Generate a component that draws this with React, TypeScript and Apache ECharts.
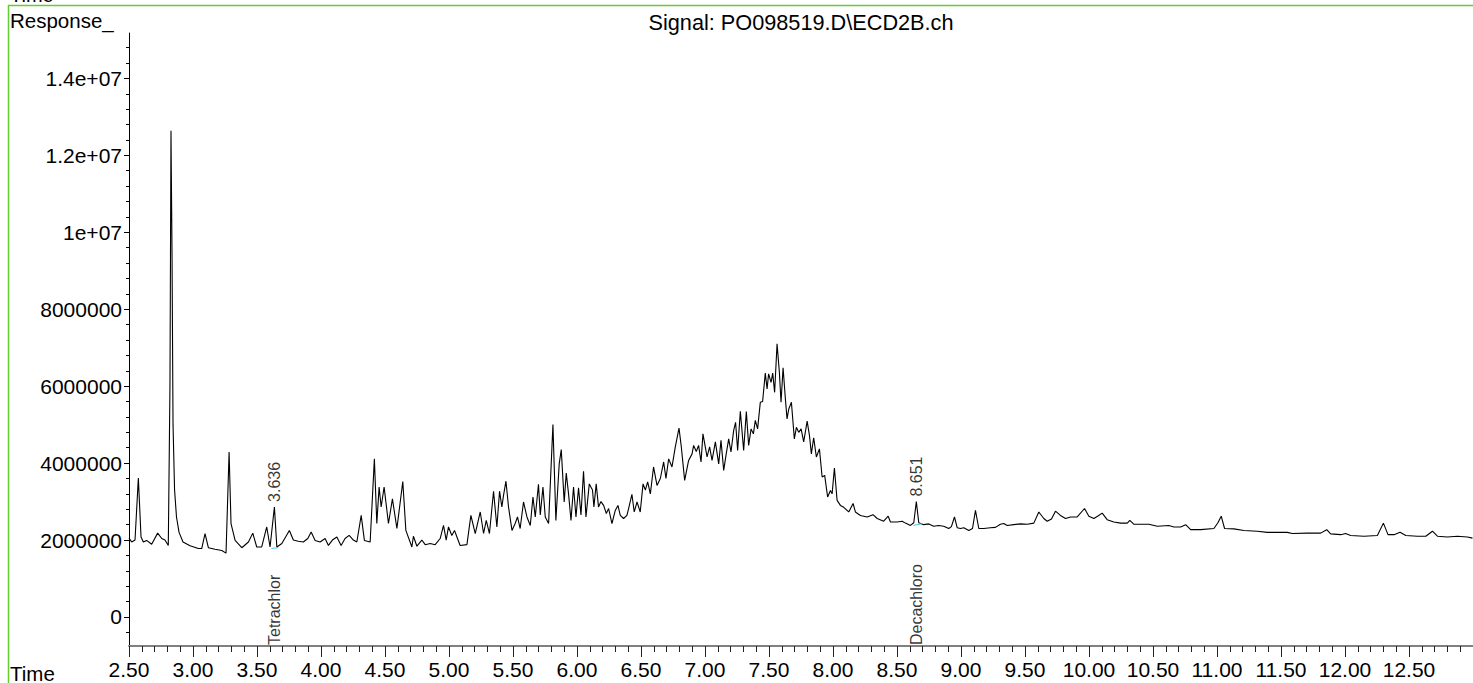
import React, { useEffect, useRef } from 'react';
import * as echarts from 'echarts';

// Retention time (min) and response (millions of counts)
const times = [
  2.500, 2.521, 2.547, 2.573, 2.594, 2.612, 2.638, 2.677, 2.724, 2.756, 2.781, 2.807, 2.820, 2.828, 2.836, 2.844,
  2.856, 2.871, 2.891, 2.922, 2.977, 3.042, 3.068, 3.094, 3.120, 3.172, 3.225, 3.258, 3.282, 3.297, 3.329, 3.381,
  3.433, 3.467, 3.498, 3.537, 3.576, 3.602, 3.636, 3.655, 3.694, 3.753, 3.784, 3.823, 3.862, 3.897, 3.923, 3.954,
  3.993, 4.032, 4.058, 4.089, 4.124, 4.157, 4.188, 4.220, 4.253, 4.280, 4.314, 4.339, 4.384, 4.417, 4.436, 4.454,
  4.470, 4.493, 4.527, 4.558, 4.593, 4.639, 4.663, 4.710, 4.722, 4.749, 4.788, 4.814, 4.853, 4.892, 4.931, 4.957,
  4.978, 4.996, 5.022, 5.043, 5.062, 5.087, 5.140, 5.171, 5.205, 5.244, 5.270, 5.291, 5.316, 5.348, 5.374, 5.395,
  5.413, 5.426, 5.445, 5.465, 5.492, 5.517, 5.535, 5.556, 5.582, 5.609, 5.635, 5.656, 5.674, 5.699, 5.713, 5.734,
  5.752, 5.778, 5.812, 5.835, 5.861, 5.877, 5.900, 5.916, 5.934, 5.953, 5.973, 5.992, 6.012, 6.031, 6.051, 6.070,
  6.096, 6.121, 6.132, 6.150, 6.168, 6.187, 6.208, 6.229, 6.247, 6.273, 6.299, 6.320, 6.338, 6.364, 6.390, 6.403,
  6.429, 6.447, 6.469, 6.494, 6.516, 6.534, 6.552, 6.573, 6.598, 6.625, 6.651, 6.677, 6.695, 6.716, 6.742, 6.768,
  6.797, 6.815, 6.841, 6.872, 6.899, 6.911, 6.932, 6.950, 6.969, 6.984, 7.016, 7.036, 7.055, 7.081, 7.107, 7.125,
  7.146, 7.164, 7.185, 7.203, 7.224, 7.239, 7.255, 7.276, 7.302, 7.323, 7.341, 7.360, 7.378, 7.393, 7.411, 7.432,
  7.450, 7.471, 7.485, 7.497, 7.516, 7.529, 7.544, 7.563, 7.581, 7.594, 7.610, 7.628, 7.641, 7.654, 7.675, 7.698,
  7.714, 7.732, 7.751, 7.771, 7.798, 7.816, 7.831, 7.849, 7.870, 7.894, 7.915, 7.935, 7.958, 7.980, 7.993, 8.011,
  8.032, 8.058, 8.084, 8.123, 8.157, 8.175, 8.214, 8.267, 8.313, 8.345, 8.396, 8.431, 8.449, 8.501, 8.540, 8.566,
  8.605, 8.631, 8.651, 8.670, 8.709, 8.748, 8.787, 8.826, 8.865, 8.904, 8.925, 8.949, 8.970, 8.996, 9.022, 9.061,
  9.090, 9.113, 9.139, 9.178, 9.230, 9.269, 9.308, 9.334, 9.361, 9.412, 9.465, 9.517, 9.569, 9.608, 9.647, 9.673,
  9.707, 9.738, 9.777, 9.817, 9.856, 9.908, 9.965, 9.999, 10.038, 10.067, 10.103, 10.142, 10.194, 10.246, 10.299,
  10.319, 10.351, 10.403, 10.468, 10.533, 10.624, 10.663, 10.716, 10.755, 10.794, 10.872, 10.976, 11.007, 11.033,
  11.059, 11.132, 11.210, 11.315, 11.393, 11.497, 11.549, 11.589, 11.706, 11.810, 11.857, 11.888, 11.967, 12.005,
  12.044, 12.148, 12.253, 12.300, 12.336, 12.383, 12.430, 12.475, 12.566, 12.631, 12.683, 12.722, 12.800, 12.878,
  12.956, 12.996,
];

const responseMillions = [
  2.05, 1.95, 2.00, 3.61, 2.08, 1.95, 1.99, 1.89, 2.18, 2.04, 2.00, 1.86, 6.00, 12.64, 9.50, 5.00,
  3.30, 2.60, 2.20, 1.95, 1.85, 1.78, 1.78, 2.17, 1.80, 1.76, 1.73, 1.66, 4.29, 2.43, 1.99, 1.80,
  1.95, 2.18, 1.82, 1.82, 2.34, 1.82, 2.86, 1.82, 1.91, 2.25, 2.00, 1.97, 1.95, 2.04, 2.21, 1.99,
  1.95, 2.04, 1.86, 2.00, 2.08, 1.86, 2.04, 2.12, 2.00, 1.95, 2.64, 1.99, 1.95, 4.11, 2.43, 3.38,
  2.86, 3.38, 2.43, 3.07, 2.30, 3.52, 2.25, 1.82, 2.10, 1.84, 2.00, 1.88, 1.91, 1.88, 2.04, 2.38,
  2.00, 2.34, 2.12, 2.25, 2.08, 1.86, 1.88, 2.64, 2.17, 2.73, 2.17, 2.51, 2.17, 3.27, 2.34, 3.27,
  2.86, 3.16, 3.53, 2.86, 2.25, 2.43, 2.60, 2.30, 2.99, 2.60, 2.38, 3.12, 2.60, 3.45, 2.65, 3.38,
  2.60, 2.43, 5.00, 2.51, 3.98, 4.35, 2.99, 3.74, 3.20, 2.51, 3.38, 2.60, 3.36, 2.65, 3.79, 2.60,
  3.46, 3.30, 2.86, 3.46, 2.86, 3.00, 2.90, 2.69, 2.82, 2.43, 2.77, 2.90, 2.64, 2.56, 2.64, 2.82,
  3.19, 2.73, 2.99, 2.73, 3.46, 3.30, 3.51, 3.20, 3.90, 3.42, 3.60, 4.03, 3.60, 4.11, 3.90, 4.42,
  4.91, 4.42, 3.55, 4.07, 4.24, 4.46, 4.30, 4.46, 4.03, 4.76, 4.16, 4.42, 4.07, 4.55, 3.98, 4.59,
  3.81, 4.20, 4.63, 4.29, 4.85, 5.06, 4.33, 5.35, 4.33, 5.34, 4.46, 4.89, 4.76, 5.11, 4.89, 5.58,
  5.60, 6.34, 5.93, 6.32, 6.10, 6.34, 5.84, 7.10, 6.36, 5.58, 6.48, 5.67, 5.15, 5.40, 5.58, 4.63,
  4.93, 4.80, 4.89, 4.55, 5.09, 4.72, 4.24, 4.66, 4.16, 4.37, 3.64, 3.68, 3.12, 3.29, 3.20, 3.87,
  3.03, 2.90, 2.85, 2.73, 2.95, 2.73, 2.64, 2.60, 2.66, 2.56, 2.49, 2.62, 2.47, 2.47, 2.49, 2.44,
  2.38, 2.45, 3.00, 2.45, 2.40, 2.42, 2.36, 2.38, 2.36, 2.30, 2.35, 2.60, 2.32, 2.30, 2.32, 2.25,
  2.30, 2.77, 2.30, 2.30, 2.32, 2.33, 2.41, 2.43, 2.38, 2.40, 2.42, 2.41, 2.44, 2.73, 2.56, 2.49,
  2.55, 2.75, 2.64, 2.56, 2.60, 2.60, 2.82, 2.62, 2.56, 2.62, 2.70, 2.53, 2.47, 2.44, 2.44,
  2.51, 2.41, 2.41, 2.41, 2.36, 2.38, 2.34, 2.34, 2.40, 2.27, 2.27, 2.30, 2.45, 2.62,
  2.30, 2.29, 2.25, 2.23, 2.20, 2.20, 2.20, 2.17, 2.18, 2.18, 2.27, 2.16, 2.14, 2.17,
  2.12, 2.10, 2.12, 2.44, 2.14, 2.14, 2.20, 2.12, 2.10, 2.10, 2.23, 2.10, 2.08, 2.10,
  2.08, 2.05,
];

// Integrated peaks: retention time, apex response (millions), compound name, baseline segment
const peakTimes = [3.636, 8.651];
const peakApexMillions = [2.86, 3.0];
const peakNames = ['Tetrachlor', 'Decachloro'];
const baselineStart = [[3.612, 1.78], [8.628, 2.38]];
const baselineEnd = [[3.668, 1.80], [8.700, 2.43]];

// Axis ticks
const xMajorTicks = [2.5, 3.0, 3.5, 4.0, 4.5, 5.0, 5.5, 6.0, 6.5, 7.0, 7.5, 8.0, 8.5, 9.0, 9.5, 10.0, 10.5, 11.0, 11.5, 12.0, 12.5];
const yMajorTicks = [0, 2000000, 4000000, 6000000, 8000000, 10000000, 12000000, 14000000];
const yTickLabels = ['0', '2000000', '4000000', '6000000', '8000000', '1e+07', '1.2e+07', '1.4e+07'];

const X_MIN = 2.5;
const X_MAX = 13.0;
const Y_MIN = -754000;
const Y_MAX = 15180000;

const FONT = "'Liberation Sans', Arial, sans-serif";

export default function App() {
  const ref = useRef<HTMLDivElement>(null);

  useEffect(() => {
    if (!ref.current) return;
    const chart = echarts.init(ref.current, undefined, { renderer: 'svg' });

    const xMinor: number[] = [];
    for (let i = 0; i < xMajorTicks.length; i++) {
      const a = xMajorTicks[i];
      for (let k = 1; k < 5; k++) {
        const v = Math.round((a + k * 0.1) * 100) / 100;
        if (v < X_MAX) xMinor.push(v);
      }
    }
    const yMinor: number[] = [];
    for (let v = -400000; v < Y_MAX; v += 400000) {
      if (v % 2000000 !== 0 && v > Y_MIN) yMinor.push(v);
    }

    const trace = times.map((t, i) => [t, responseMillions[i] * 1e6]);
    const labelMap: Record<number, string> = {};
    yMajorTicks.forEach((v, i) => (labelMap[v] = yTickLabels[i]));

    const baselineSeries = peakTimes.map((_, i) => ({
      type: 'line',
      xAxisIndex: 0,
      yAxisIndex: 0,
      data: [
        [baselineStart[i][0], baselineStart[i][1] * 1e6],
        [baselineEnd[i][0], baselineEnd[i][1] * 1e6],
      ],
      showSymbol: false,
      symbol: 'none',
      lineStyle: { color: '#4cc6e6', width: 1 },
      z: 3,
      silent: true,
    }));

    chart.setOption({
      animation: false,
      backgroundColor: '#ffffff',
      grid: { left: 129, right: 0, top: 33, bottom: 37, containLabel: false, outerBoundsMode: 'none' },
      xAxis: [
        {
          type: 'value',
          min: X_MIN,
          max: X_MAX,
          position: 'bottom',
          axisLine: { show: true, onZero: false, lineStyle: { color: '#808080', width: 2 } },
          axisTick: { show: true, customValues: xMajorTicks, length: 11, lineStyle: { color: '#222', width: 1 } },
          axisLabel: {
            show: true,
            customValues: xMajorTicks,
            formatter: (v: number) => v.toFixed(2),
            fontSize: 21,
            color: '#000',
            fontFamily: FONT,
            margin: 13,
          },
          splitLine: { show: false },
        },
        {
          type: 'value',
          min: X_MIN,
          max: X_MAX,
          position: 'bottom',
          axisLine: { show: false, onZero: false },
          axisTick: { show: true, customValues: xMinor, length: 6, lineStyle: { color: '#222', width: 1 } },
          axisLabel: { show: false },
          splitLine: { show: false },
        },
      ],
      yAxis: [
        {
          type: 'value',
          min: Y_MIN,
          max: Y_MAX,
          position: 'left',
          axisLine: { show: true, onZero: false, lineStyle: { color: '#000', width: 1 } },
          axisTick: { show: true, customValues: yMajorTicks, length: 5, lineStyle: { color: '#000', width: 1 } },
          axisLabel: {
            show: true,
            customValues: yMajorTicks,
            formatter: (v: number) => labelMap[v] ?? String(v),
            fontSize: 21,
            color: '#000',
            fontFamily: FONT,
            margin: 7,
          },
          splitLine: { show: false },
        },
        {
          type: 'value',
          min: Y_MIN,
          max: Y_MAX,
          position: 'left',
          axisLine: { show: false, onZero: false },
          axisTick: { show: true, customValues: yMinor, length: 3, lineStyle: { color: '#000', width: 1 } },
          axisLabel: { show: false },
          splitLine: { show: false },
        },
      ],
      series: [
        {
          type: 'line',
          xAxisIndex: 0,
          yAxisIndex: 0,
          data: trace,
          showSymbol: false,
          symbol: 'none',
          lineStyle: { color: '#000', width: 1.1 },
          z: 2,
          silent: true,
        },
        ...baselineSeries,
        {
          type: 'scatter',
          xAxisIndex: 0,
          yAxisIndex: 0,
          symbolSize: 0,
          itemStyle: { color: 'rgba(0,0,0,0)' },
          silent: true,
          data: peakTimes.map((t, i) => [t, peakApexMillions[i] * 1e6]),
          label: {
            show: true,
            position: 'top',
            distance: 5,
            rotate: 90,
            align: 'left',
            verticalAlign: 'middle',
            fontSize: 16,
            color: '#000',
            fontFamily: FONT,
            formatter: (p: any) => peakTimes[p.dataIndex].toFixed(3),
          },
          z: 4,
        },
        {
          type: 'scatter',
          xAxisIndex: 0,
          yAxisIndex: 0,
          symbolSize: 0,
          itemStyle: { color: 'rgba(0,0,0,0)' },
          silent: true,
          clip: false,
          data: peakTimes.map((t) => [t, Y_MIN]),
          label: {
            show: true,
            position: 'top',
            distance: 1,
            rotate: 90,
            align: 'left',
            verticalAlign: 'middle',
            fontSize: 16,
            color: '#000',
            fontFamily: FONT,
            formatter: (p: any) => peakNames[p.dataIndex],
          },
          z: 4,
        },
      ],
      graphic: [
        { type: 'line', shape: { x1: 8, y1: 5.5, x2: 1473, y2: 5.5 }, style: { stroke: '#66cc33', lineWidth: 1.5 } },
        { type: 'line', shape: { x1: 8.5, y1: 5, x2: 8.5, y2: 683 }, style: { stroke: '#66cc33', lineWidth: 1.5 } },
        { type: 'text', x: 10, y: -5, style: { text: 'Time', fontSize: 20, fontFamily: FONT, fill: '#000', verticalAlign: 'middle' } },
        { type: 'text', x: 10, y: 20, style: { text: 'Response_', fontSize: 20.5, fontFamily: FONT, fill: '#000', verticalAlign: 'middle' } },
        { type: 'text', x: 801, y: 22, style: { text: 'Signal: PO098519.D\\ECD2B.ch', fontSize: 21.7, fontFamily: FONT, fill: '#000', align: 'center', verticalAlign: 'middle' } },
        { type: 'text', x: 10, y: 673, style: { text: 'Time', fontSize: 20.5, fontFamily: FONT, fill: '#000', verticalAlign: 'middle' } },
      ],
    });

    return () => {
      chart.dispose();
    };
  }, []);

  return (
    <div
      ref={ref}
      style={{ position: 'fixed', left: 0, top: 0, width: 1473, height: 683, background: '#fff' }}
    />
  );
}
